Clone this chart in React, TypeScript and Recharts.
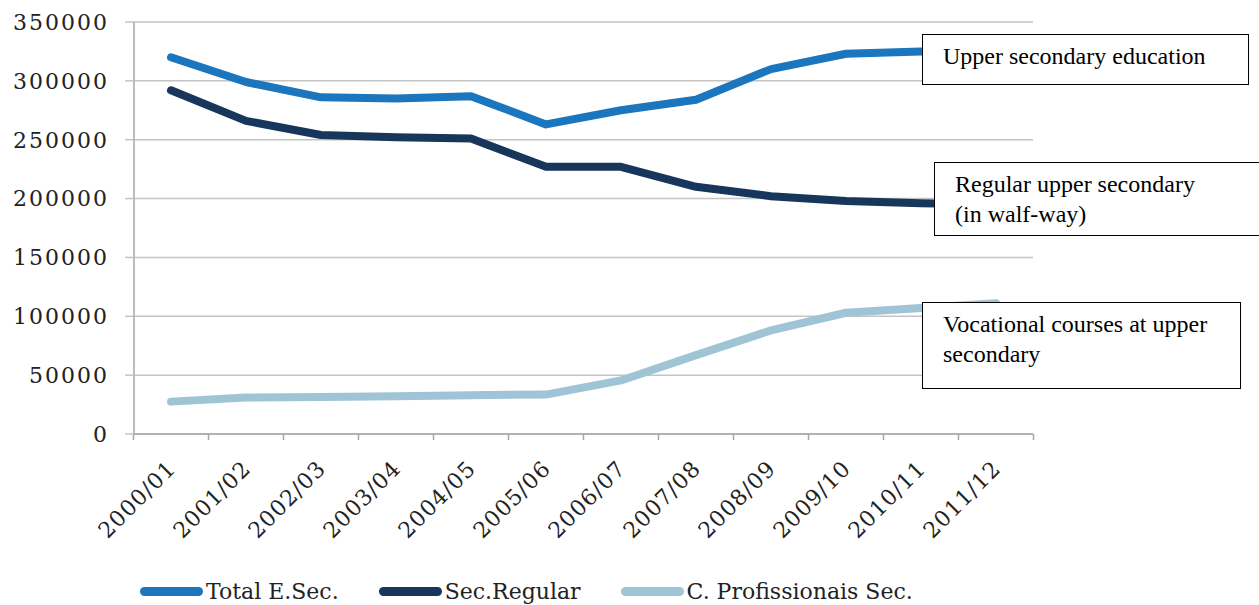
import * as React from "react"
import { LineChart, Line, XAxis, YAxis, CartesianGrid, Legend } from "recharts"

// school years on the x axis
const years = [
  "2000/01", "2001/02", "2002/03", "2003/04", "2004/05", "2005/06",
  "2006/07", "2007/08", "2008/09", "2009/10", "2010/11", "2011/12",
]

// students enrolled
const totalSec = [320000, 299000, 286000, 285000, 287000, 263000, 275000, 284000, 310000, 323000, 325000, 327000]
const secRegular = [292000, 266000, 254000, 252000, 251000, 227000, 227000, 210000, 202000, 198000, 196000, 195000]
const profSec = [27500, 31000, 31500, 32000, 33000, 33500, 45500, 67000, 88000, 103000, 107000, 111000]

const yTicks = [0, 50000, 100000, 150000, 200000, 250000, 300000, 350000]

const SERIES = [
  { key: "total", name: "Total E.Sec.", color: "#1b76bd" },
  { key: "regular", name: "Sec.Regular", color: "#18365c" },
  { key: "prof", name: "C. Profissionais Sec.", color: "#9fc4d6" },
]

const data = years.map((year, i) => ({
  year,
  total: totalSec[i],
  regular: secRegular[i],
  prof: profSec[i],
}))

const W = 1259
const H = 605
const PAD = 37 // half a category, so points sit between the boundary ticks
const AXIS_COLOR = "#a6a6a6"
const GRID_COLOR = "#c4c4c4"
const TEXT_COLOR = "#222"
const LABEL_FONT = "'DejaVu Serif', serif"
const NOTE_FONT = "'Liberation Serif', 'Times New Roman', serif"

function XTick(props: any) {
  const { x, y, payload, index, visibleTicksCount } = props
  const half = (W - 226 - 134 - 2 * PAD) / (years.length - 1) / 2
  const tx = x + 6
  const ty = y + 36
  return (
    <g>
      <line x1={x - half} x2={x - half} y1={y} y2={y + 6} stroke={AXIS_COLOR} strokeWidth={1.5} />
      {index === (visibleTicksCount ?? years.length) - 1 && (
        <line x1={x + half} x2={x + half} y1={y} y2={y + 6} stroke={AXIS_COLOR} strokeWidth={1.5} />
      )}
      <text
        x={tx}
        y={ty}
        textAnchor="end"
        transform={`rotate(-45, ${tx}, ${ty})`}
        fontFamily={LABEL_FONT}
        fontSize={22}
        letterSpacing={1}
        fill={TEXT_COLOR}
      >
        {payload.value}
      </text>
    </g>
  )
}

function LegendContent() {
  return (
    <div style={{ display: "flex", alignItems: "center", paddingLeft: 140 }}>
      {SERIES.map((s) => (
        <div key={s.key} style={{ display: "flex", alignItems: "center", marginRight: 40 }}>
          <span style={{ width: 63, height: 9, borderRadius: 5, background: s.color, display: "inline-block" }} />
          <span style={{ fontFamily: LABEL_FONT, fontSize: 22, color: TEXT_COLOR, marginLeft: 3 }}>{s.name}</span>
        </div>
      ))}
    </div>
  )
}

const boxStyle: React.CSSProperties = {
  position: "absolute",
  boxSizing: "border-box",
  border: "1px solid #000",
  background: "#fff",
  fontFamily: NOTE_FONT,
  fontSize: 24,
  lineHeight: "29.5px",
  color: "#000",
  paddingLeft: 20,
  paddingTop: 7,
  whiteSpace: "nowrap",
}

export default function App() {
  return (
    <div style={{ position: "absolute", left: 0, top: 0, width: W, height: H, overflow: "hidden", background: "#fff" }}>
      <LineChart width={W} height={H} data={data} margin={{ top: 22, right: 226, bottom: 0, left: 0 }}>
        <CartesianGrid vertical={false} stroke={GRID_COLOR} strokeWidth={1.5} />
        <XAxis
          dataKey="year"
          interval={0}
          height={171}
          padding={{ left: PAD, right: PAD }}
          axisLine={{ stroke: AXIS_COLOR, strokeWidth: 1.5 }}
          tickLine={false}
          tickSize={0}
          tickMargin={0}
          tick={<XTick />}
        />
        <YAxis
          width={134}
          domain={[0, 350000]}
          ticks={yTicks}
          interval={0}
          axisLine={{ stroke: AXIS_COLOR, strokeWidth: 1.5 }}
          tickLine={{ stroke: GRID_COLOR, strokeWidth: 1.5 }}
          tickSize={9}
          tickMargin={16}
          tick={{ fontFamily: LABEL_FONT, fontSize: 22, letterSpacing: 2, fill: TEXT_COLOR }}
        />
        <Legend
          layout="horizontal"
          verticalAlign="middle"
          align="center"
          wrapperStyle={{ top: 579, left: 0, width: W }}
          content={<LegendContent />}
        />
        {SERIES.map((s) => (
          <Line
            key={s.key}
            type="linear"
            dataKey={s.key}
            name={s.name}
            stroke={s.color}
            strokeWidth={8}
            strokeLinejoin="round"
            strokeLinecap="round"
            dot={false}
            activeDot={false}
            isAnimationActive={false}
          />
        ))}
      </LineChart>

      <div style={{ ...boxStyle, left: 922, top: 34, width: 327, height: 51 }}>Upper secondary education</div>
      <div style={{ ...boxStyle, left: 934, top: 162, width: 330, height: 74 }}>
        Regular upper secondary
        <br />
        (in walf-way)
      </div>
      <div style={{ ...boxStyle, left: 922, top: 302, width: 319, height: 87 }}>
        Vocational courses at upper
        <br />
        secondary
      </div>
    </div>
  )
}
